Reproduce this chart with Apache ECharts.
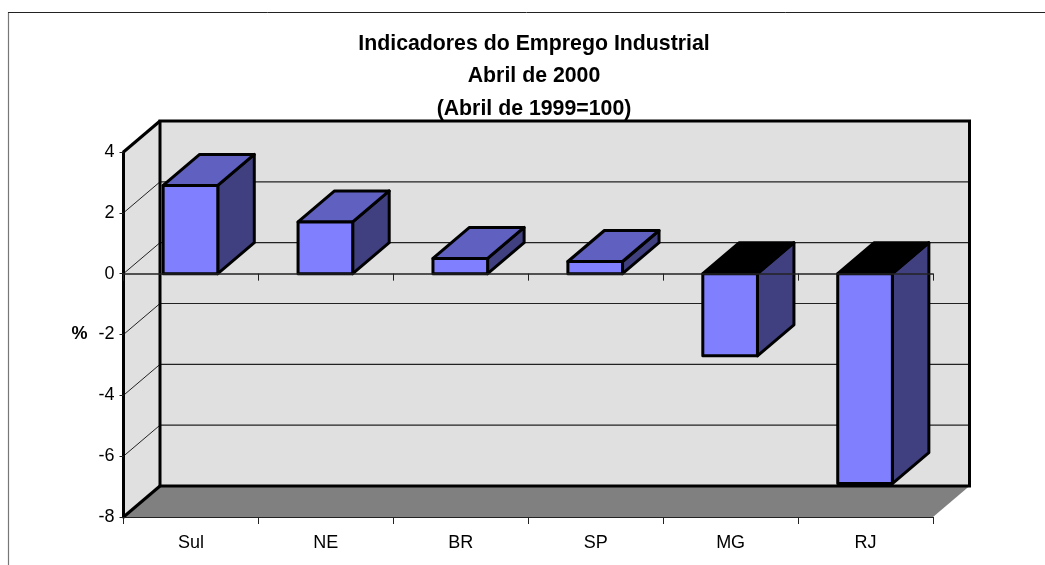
<!DOCTYPE html>
<html><head><meta charset="utf-8">
<style>html,body{margin:0;padding:0;background:#fff}#c{width:1045px;height:565px}</style>
<script src="https://cdn.jsdelivr.net/npm/echarts@6/dist/echarts.min.js"></script>
</head><body><div id="c"></div>
<script>
const categories = ['Sul','NE','BR','SP','MG','RJ'];
const values = [2.9,1.7,0.5,0.4,-2.7,-6.9];
const yTicks = [-8,-6,-4,-2,0,2,4];
const titleLines = ['Indicadores do Emprego Industrial','Abril de 2000','(Abril de 1999=100)'];
const DX = 36.5, DY = -31;
const FONT = '"Liberation Sans", Arial, sans-serif';

const chart = echarts.init(document.getElementById('c'), null, {renderer:'canvas'});

function poly(points, fill, lw, z2){
  return {type:'polygon', z2:z2||0, shape:{points},
    style:{fill, stroke: lw ? '#000' : null, lineWidth: lw||0, lineJoin:'round'}};
}
function seg(a,b,lw,z2,color){
  return {type:'line', z2:z2||0, shape:{x1:a[0],y1:a[1],x2:b[0],y2:b[1]},
    style:{stroke:color||'#000', lineWidth:lw}};
}
function renderWalls(params, api){
  const cs = params.coordSys;
  const xL = cs.x, xR = cs.x + cs.width;
  const yT = api.coord([0,yTicks[yTicks.length-1]])[1];
  const yB = api.coord([0,yTicks[0]])[1];
  const kids = [
    poly([[xL,yB],[xL+DX,yB+DY],[xR+DX,yB+DY],[xR,yB]],'#808080',0,1),
    poly([[xL,yT],[xL+DX,yT+DY],[xL+DX,yB+DY],[xL,yB]],'#e0e0e0',0,1),
    poly([[xL+DX,yT+DY],[xR+DX,yT+DY],[xR+DX,yB+DY],[xL+DX,yB+DY]],'#e0e0e0',0,1)
  ];
  yTicks.slice(1,-1).forEach(t=>{
    const y = api.coord([0,t])[1];
    kids.push(seg([xL,y],[xL+DX,y+DY],1,2,'#222'));
    kids.push(seg([xL+DX,y+DY],[xR+DX,y+DY],1.2,2,'#222'));
  });
  kids.push(seg([xL,yT],[xL+DX,yT+DY],3,3));
  kids.push(seg([xL,yB],[xL+DX,yB+DY],3,3));
  kids.push({type:'polygon',z2:3,shape:{points:[[xL+DX,yT+DY],[xR+DX,yT+DY],[xR+DX,yB+DY],[xL+DX,yB+DY]]},
    style:{fill:null,stroke:'#000',lineWidth:3}});
  return {type:'group',children:kids};
}
function renderBar(params, api){
  const i = api.value(0), v = api.value(1);
  const w = api.size([1,0])[0]*0.405;
  const cx = api.coord([i,0])[0]-0.5;
  const y0 = api.coord([i,0])[1], yv = api.coord([i,v])[1];
  const yt = Math.min(y0,yv), yb = Math.max(y0,yv);
  const x0 = cx-w/2, x1 = cx+w/2;
  return {type:'group',children:[
    poly([[x1,yt],[x1+DX,yt+DY],[x1+DX,yb+DY],[x1,yb]],'#404080',3,1),
    poly([[x0,yt],[x0+DX,yt+DY],[x1+DX,yt+DY],[x1,yt]],v<0?'#000000':'#6060c0',3,2),
    poly([[x0,yt],[x1,yt],[x1,yb],[x0,yb]],'#8080ff',3,3)
  ]};
}
chart.setOption({
  animation:false,
  backgroundColor:'#fff',
  title:{text:titleLines.join('\n'),left:529,top:22.5,textAlign:'center',
    textStyle:{fontFamily:FONT,fontSize:21.3,fontWeight:'bold',color:'#000',lineHeight:32.5}},
  graphic:[
    {type:'line',silent:true,shape:{x1:8.5,y1:12,x2:8.5,y2:565},style:{stroke:'#777',lineWidth:1.2}},
    {type:'line',silent:true,shape:{x1:8,y1:12.5,x2:1045,y2:12.5},style:{stroke:'#222',lineWidth:1}}
  ],
  grid:{left:123.5,right:112,top:152,bottom:48},
  xAxis:[
    {type:'category',data:categories,position:'bottom',z:5,
     axisLine:{onZero:false,lineStyle:{color:'#222',width:1}},
     axisTick:{show:true,alignWithLabel:false,length:7,lineStyle:{color:'#222'}},
     axisLabel:{fontFamily:FONT,fontSize:18,color:'#000',margin:17}},
    {type:'category',data:categories,position:'top',z:5,
     axisLine:{onZero:true,lineStyle:{color:'#222',width:1.5}},
     axisTick:{show:true,inside:true,length:7,lineStyle:{color:'#222'}},
     axisLabel:{show:false}}
  ],
  yAxis:{type:'value',min:yTicks[0],max:yTicks[yTicks.length-1],interval:2,z:5,
    name:'%',nameLocation:'middle',nameGap:36,nameRotate:0,
    nameTextStyle:{fontFamily:FONT,fontSize:18,fontWeight:'bold',color:'#000',padding:[4,0,0,0]},
    axisLine:{show:true,lineStyle:{color:'#000',width:3}},
    axisTick:{show:true,length:4,lineStyle:{color:'#222'}},
    axisLabel:{fontFamily:FONT,fontSize:18,color:'#000',margin:9,padding:[7,0,0,0]},
    splitLine:{show:false}},
  series:[
    {type:'custom',z:1,silent:true,data:[[0,0]],renderItem:renderWalls,encode:{x:0,y:1}},
    {type:'custom',z:3,data:values.map((v,i)=>[i,v]),renderItem:renderBar,encode:{x:0,y:1}}
  ]
});
</script></body></html>
